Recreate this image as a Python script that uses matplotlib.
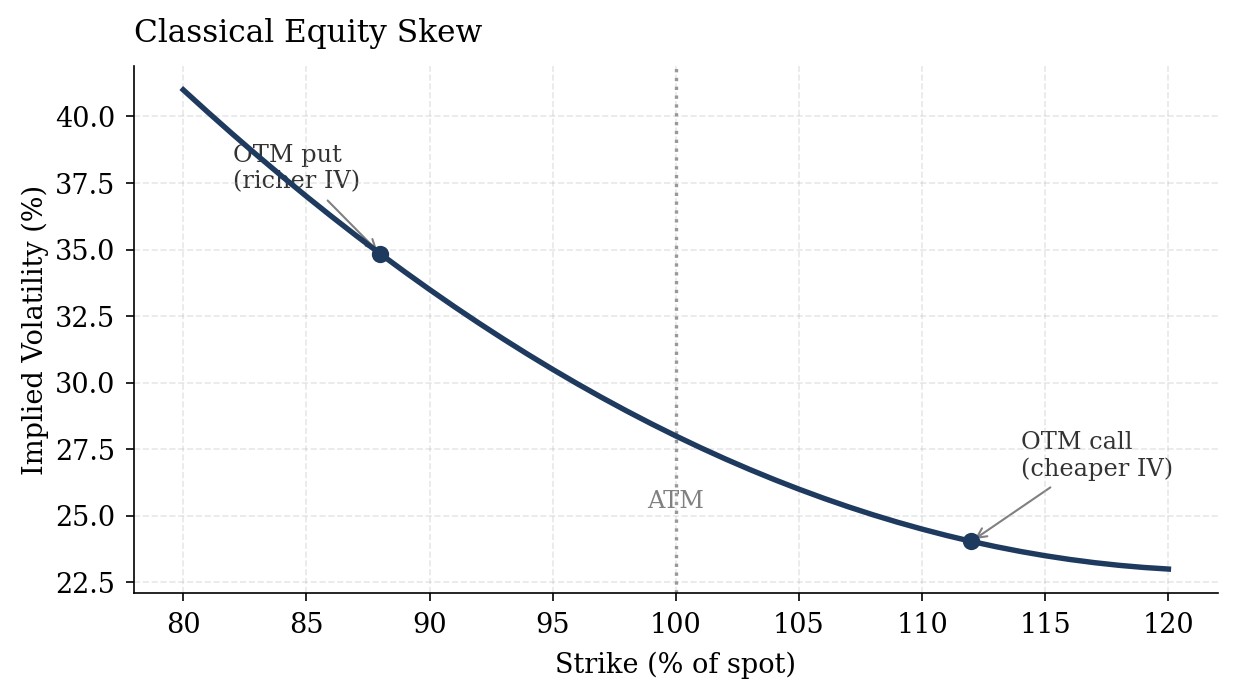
import numpy as np
import matplotlib.pyplot as plt

plt.rcParams['font.family'] = 'DejaVu Serif'

# strike (% of spot) and implied vol (%)
strikes = list(range(80, 121))
iv = [41.00, 40.16, 39.34, 38.54, 37.76, 37.00, 36.26, 35.54, 34.84, 34.16,
      33.50, 32.86, 32.24, 31.64, 31.06, 30.50, 29.96, 29.44, 28.94, 28.46,
      28.00, 27.56, 27.14, 26.74, 26.36, 26.00, 25.66, 25.34, 25.04, 24.76,
      24.50, 24.26, 24.04, 23.84, 23.66, 23.50, 23.36, 23.24, 23.14, 23.06,
      23.00]

# highlighted points
put_k, put_iv = 88, 34.84
call_k, call_iv = 112, 24.04

navy = '#1f3a5f'

fig, ax = plt.subplots(figsize=(8.233, 4.627), dpi=150)
fig.subplots_adjust(left=0.1085, right=0.986, top=0.905, bottom=0.1455)

ax.plot(strikes, iv, color=navy, linewidth=2.6, zorder=3)
ax.plot([put_k, call_k], [put_iv, call_iv], 'o', color=navy, markersize=7.3, zorder=4)

ax.axvline(100, color='#999999', linestyle=':', linewidth=1.6, zorder=2)
ax.text(100, 25.1, 'ATM', color='grey', ha='center', va='bottom', fontsize=11.5, zorder=1)

ax.annotate('OTM put\n(richer IV)', xy=(put_k, put_iv), xytext=(82, 37.3),
            fontsize=11.5, color='#333333', zorder=1,
            arrowprops=dict(arrowstyle='->', color='grey', lw=1))
ax.annotate('OTM call\n(cheaper IV)', xy=(call_k, call_iv), xytext=(114, 26.5),
            fontsize=11.5, color='#333333', zorder=1,
            arrowprops=dict(arrowstyle='->', color='grey', lw=1))

ax.set_xticks(np.arange(80, 121, 5))
ax.set_xlabel('Strike (% of spot)', fontsize=13, labelpad=6)
ax.set_ylabel('Implied Volatility (%)', fontsize=13, labelpad=3)
ax.set_title('Classical Equity Skew', loc='left', fontsize=15, pad=11.5)
ax.tick_params(labelsize=13, length=4, pad=5)
ax.grid(True, linestyle='--', alpha=0.3)
ax.spines['top'].set_visible(False)
ax.spines['right'].set_visible(False)

plt.savefig('out.png')
